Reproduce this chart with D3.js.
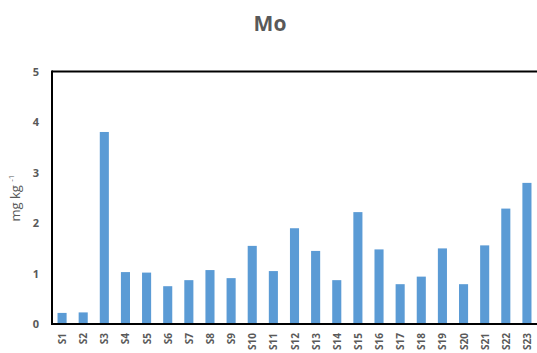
<!DOCTYPE html>
<html>
<head>
<meta charset="utf-8">
<script src="https://cdn.jsdelivr.net/npm/d3@7"></script>
<style>
  html, body { margin: 0; padding: 0; background: #fff; }
  svg { display: block; font-family: "Open Sans", "Liberation Sans", sans-serif; }
</style>
</head>
<body>
<svg id="chart" width="537" height="353"></svg>
<script>
// Molybdenum concentration per sampling site
const categories = ["S1","S2","S3","S4","S5","S6","S7","S8","S9","S10","S11","S12",
                    "S13","S14","S15","S16","S17","S18","S19","S20","S21","S22","S23"];
const moValues = [0.22, 0.23, 3.81, 1.03, 1.02, 0.75, 0.87, 1.07, 0.91, 1.55, 1.05, 1.90,
                  1.45, 0.87, 2.22, 1.48, 0.79, 0.94, 1.50, 0.79, 1.56, 2.29, 2.80];
const yTicks = [0, 1, 2, 3, 4, 5];

const svg = d3.select("#chart");
const margin = { left: 52, right: 0, top: 72, bottom: 29 };
const W = 537, H = 353;
const plotBottom = H - margin.bottom; // 324

const x = d3.scaleBand()
  .domain(categories)
  .range([margin.left - 0.5, 537.5])
  .paddingInner(0.57)
  .paddingOuter(0.285);

const y = d3.scaleLinear().domain([0, 5]).range([plotBottom, margin.top]);

const textColor = "#595959";

// Title
svg.append("text")
  .attr("x", 270).attr("y", 31)
  .attr("text-anchor", "middle")
  .attr("fill", textColor)
  .attr("font-size", 21).attr("font-weight", "bold")
  .text("Mo");

// Bars
svg.append("g").selectAll("rect")
  .data(moValues)
  .join("rect")
  .attr("x", (d, i) => x(categories[i]))
  .attr("width", x.bandwidth())
  .attr("y", d => y(d))
  .attr("height", d => y(0) - y(d))
  .attr("fill", "#5B9BD5");

// Y axis labels
const yAxis = d3.axisLeft(y).tickValues(yTicks).tickFormat(d3.format("d"))
  .tickSize(0).tickPadding(13);
const gy = svg.append("g").attr("transform", `translate(${margin.left},0)`).call(yAxis);
gy.select(".domain").remove();
gy.selectAll("text")
  .attr("fill", textColor)
  .attr("font-size", 11).attr("font-weight", "bold")
  .attr("font-family", "'Open Sans', sans-serif");

// X axis labels, rotated
const xAxis = d3.axisBottom(x).tickSize(0).tickPadding(0);
const gx = svg.append("g").attr("transform", `translate(0,${plotBottom})`).call(xAxis);
gx.select(".domain").remove();
gx.selectAll("text")
  .attr("fill", textColor)
  .attr("font-size", 10).attr("font-weight", "bold")
  .attr("font-family", "'Open Sans', sans-serif")
  .attr("text-anchor", "end")
  .attr("dy", null)
  .attr("transform", "translate(4,9) rotate(-90)");

// Frame: top, left and bottom lines
const frame = svg.append("g").attr("stroke", "#000").attr("fill", "none");
frame.append("line")
  .attr("x1", margin.left).attr("x2", W)
  .attr("y1", margin.top - 0.5).attr("y2", margin.top - 0.5)
  .attr("stroke-width", 2);
frame.append("line")
  .attr("x1", margin.left).attr("x2", margin.left)
  .attr("y1", margin.top - 1.5).attr("y2", plotBottom + 1)
  .attr("stroke-width", 2);
frame.append("line")
  .attr("x1", margin.left - 1).attr("x2", W)
  .attr("y1", plotBottom).attr("y2", plotBottom)
  .attr("stroke-width", 2);

// Y axis title with superscript
const yTitle = svg.append("text")
  .attr("transform", "translate(20,198) rotate(-90)")
  .attr("text-anchor", "middle")
  .attr("fill", textColor)
  .attr("font-size", 13);
yTitle.append("tspan").text("mg kg ");
yTitle.append("tspan").attr("font-size", 8).attr("dy", -6).text("-1");
</script>
</body>
</html>
